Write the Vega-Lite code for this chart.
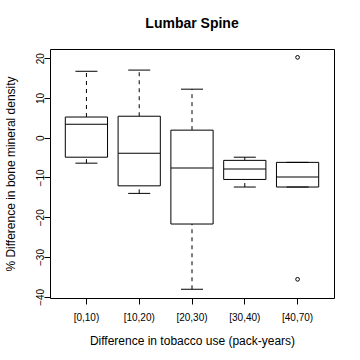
{
  "$schema": "https://vega.github.io/schema/vega-lite/v6.json",
  "width": 284,
  "height": 249,
  "autosize": {"type": "none"},
  "padding": {"left": 50, "top": 49, "right": 26, "bottom": 62},
  "background": "white",
  "config": {
    "font": "Liberation Sans",
    "view": {"stroke": "black", "strokeWidth": 1},
    "axis": {"grid": false, "domain": false, "tickColor": "black", "labelColor": "black", "titleColor": "black", "titleFontWeight": "normal", "tickSize": 6}
  },
  "title": {"text": "Lumbar Spine", "fontSize": 14, "fontWeight": "bold", "anchor": "middle", "baseline": "alphabetic", "offset": 7, "color": "black"},
  "datasets": {
    "boxes": [
      {"group": "[0,10)", "lower": -6.4, "q1": -4.9, "median": 3.4, "q3": 5.2, "upper": 16.7},
      {"group": "[10,20)", "lower": -14.0, "q1": -12.1, "median": -3.9, "q3": 5.4, "upper": 17.0},
      {"group": "[20,30)", "lower": -38.1, "q1": -21.7, "median": -7.6, "q3": 1.9, "upper": 12.2},
      {"group": "[30,40)", "lower": -12.4, "q1": -10.5, "median": -7.9, "q3": -5.7, "upper": -4.9},
      {"group": "[40,70)", "lower": -12.4, "q1": -12.4, "median": -9.9, "q3": -6.2, "upper": -6.2}
    ],
    "outliers": [
      {"group": "[40,70)", "value": 20.2},
      {"group": "[40,70)", "value": -35.6}
    ]
  },
  "encoding": {
    "x": {
      "field": "group", "type": "nominal",
      "sort": ["[0,10)", "[10,20)", "[20,30)", "[30,40)", "[40,70)"],
      "scale": {"type": "band", "paddingInner": 0, "paddingOuter": 0.19, "domain": ["[0,10)", "[10,20)", "[20,30)", "[30,40)", "[40,70)"]},
      "axis": {"title": "Difference in tobacco use (pack-years)", "labelAngle": 0, "labelFontSize": 10, "labelPadding": 8, "titleFontSize": 12, "titlePadding": 13}
    }
  },
  "layer": [
    {
      "data": {"name": "boxes"},
      "mark": {"type": "rule", "color": "black", "strokeWidth": 1, "strokeDash": [4, 4]},
      "encoding": {
        "y": {"field": "q3", "type": "quantitative", "scale": {"domain": [-40.3, 22.3], "nice": false, "zero": false},
          "axis": {"title": "% Difference in bone mineral density", "values": [-40, -30, -20, -10, 0, 10, 20], "labelAngle": 270, "labelAlign": "center", "labelBaseline": "alphabetic", "labelPadding": 1, "labelFontSize": 10, "titleFontSize": 12, "titleX": -36, "titleBaseline": "alphabetic"}},
        "y2": {"field": "upper"}
      }
    },
    {
      "data": {"name": "boxes"},
      "mark": {"type": "rule", "color": "black", "strokeWidth": 1, "strokeDash": [4, 4]},
      "encoding": {
        "y": {"field": "lower", "type": "quantitative"},
        "y2": {"field": "q1"}
      }
    },
    {
      "data": {"name": "boxes"},
      "mark": {"type": "bar", "fill": "white", "stroke": "black", "strokeWidth": 1, "width": {"band": 0.8}},
      "encoding": {
        "y": {"field": "q1", "type": "quantitative"},
        "y2": {"field": "q3"}
      }
    },
    {
      "data": {"name": "boxes"},
      "mark": {"type": "tick", "color": "black", "size": 42, "thickness": 1, "opacity": 1},
      "encoding": {"y": {"field": "median", "type": "quantitative"}}
    },
    {
      "data": {"name": "boxes"},
      "mark": {"type": "tick", "color": "black", "size": 22, "thickness": 1, "opacity": 1},
      "encoding": {"y": {"field": "upper", "type": "quantitative"}}
    },
    {
      "data": {"name": "boxes"},
      "mark": {"type": "tick", "color": "black", "size": 22, "thickness": 1, "opacity": 1},
      "encoding": {"y": {"field": "lower", "type": "quantitative"}}
    },
    {
      "data": {"name": "outliers"},
      "mark": {"type": "point", "shape": "circle", "filled": false, "stroke": "black", "strokeWidth": 1, "size": 14, "opacity": 1},
      "encoding": {"y": {"field": "value", "type": "quantitative"}}
    }
  ]
}
